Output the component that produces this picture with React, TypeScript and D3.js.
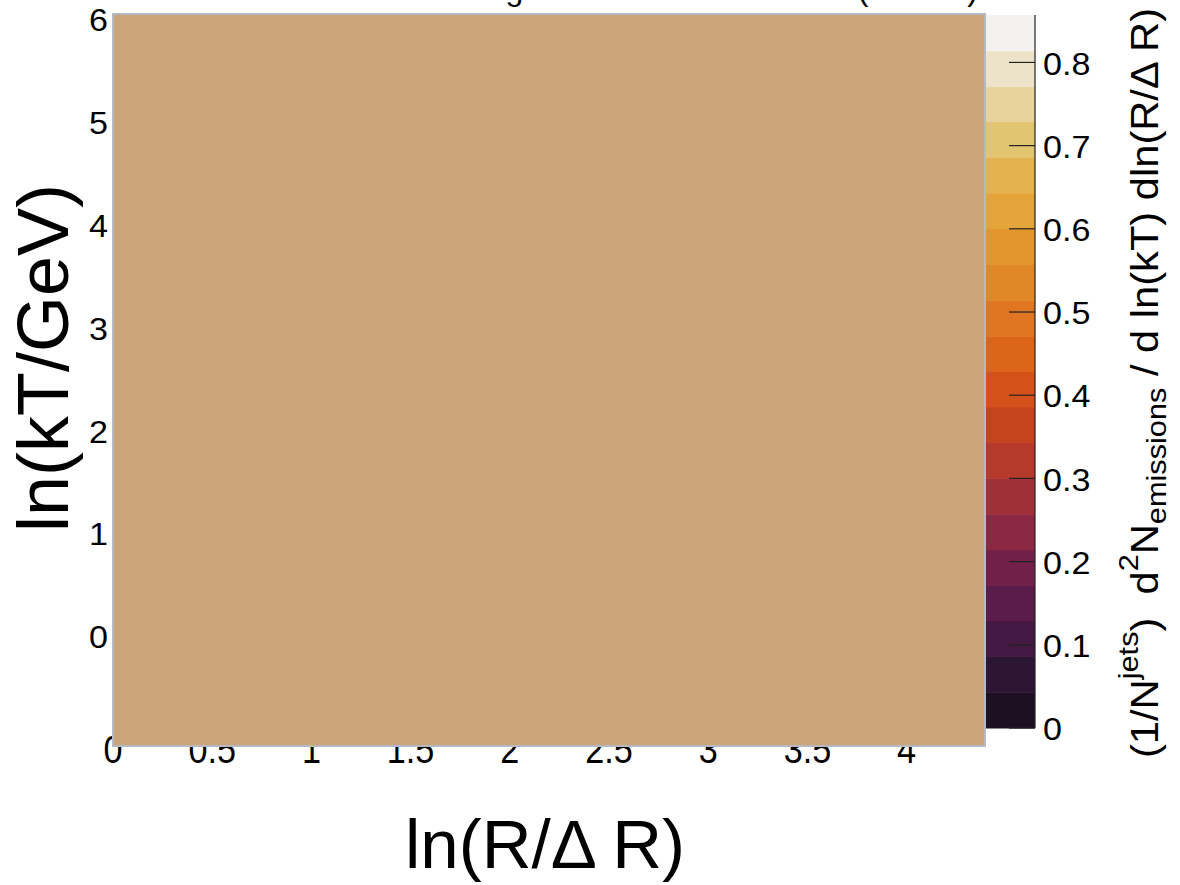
import React from "react";
import * as d3 from "d3";

// ---- data ----
const xDomain = [0, 4.395];
const yDomain = [-1.06, 6.06];
const xTickValues = [0, 0.5, 1, 1.5, 2, 2.5, 3, 3.5, 4];
const xTickLabels = ["0", "0.5", "1", "1.5", "2", "2.5", "3", "3.5", "4"];
const yTickValues = [0, 1, 2, 3, 4, 5, 6];
const yTickLabels = ["0", "1", "2", "3", "4", "5", "6"];
const zDomain = [0, 0.857];
const zTickValues = [0, 0.1, 0.2, 0.3, 0.4, 0.5, 0.6, 0.7, 0.8];
const zTickLabels = ["0", "0.1", "0.2", "0.3", "0.4", "0.5", "0.6", "0.7", "0.8"];
const zLevels = [0, 0.043, 0.086, 0.129, 0.171, 0.214, 0.257, 0.3, 0.343, 0.386, 0.429,
  0.471, 0.514, 0.557, 0.6, 0.643, 0.686, 0.729, 0.771, 0.814, 0.857];
const zColors = [
  "#1d1022", "#2c1535", "#431842", "#5a1c4a", "#702049",
  "#8a2843", "#a12f38", "#b53a2b", "#c6431f", "#d4521a",
  "#db6519", "#e07522", "#e08726", "#e3952e", "#e3a43a",
  "#e3b350", "#e2c571", "#e6d49c", "#ede3c8", "#f4f2f0",
];
// histogram content: one uniform cell covering the whole plane
const histXEdges = [0, 4.395];
const histYEdges = [-1.06, 6.06];
const histFill = "#cba57a";

const FONT = "'Liberation Sans', Arial, Helvetica, sans-serif";

export default function App() {
  const x = d3.scaleLinear().domain(xDomain).range([113, 985]);
  const y = d3.scaleLinear().domain(yDomain).range([746, 14]);
  const z = d3.scaleLinear().domain(zDomain).range([728, 15]);
  const tickF = 31;
  const sx = 1.1;
  const xTickF = 38;
  const cbX0 = 986;
  const cbX1 = 1035;

  return (
    <svg
      width={1180}
      height={885}
      style={{ position: "absolute", left: 0, top: 0, display: "block", background: "#fff" }}
      fontFamily={FONT}
    >
      <rect x={0} y={0} width={1180} height={885} fill="#fff" />
      {/* title (almost entirely above the page, only descenders show) */}
      <text x={978} y={0} textAnchor="end" fontSize={32} fill="#000">
        Leading Emissions Lund Plane (13 TeV)
      </text>

      {/* x tick labels (partly hidden beneath the plot) */}
      {xTickValues.map((v, i) => (
        <text
          key={"xt" + i}
          transform={`translate(${x(v)},763) scale(0.9,1)`}
          textAnchor="middle"
          fontSize={xTickF}
          fill="#000"
        >
          {xTickLabels[i]}
        </text>
      ))}

      {/* y tick labels */}
      {yTickValues.map((v, i) => (
        <text
          key={"yt" + i}
          transform={`translate(108,${y(v) + 0.358 * tickF}) scale(${sx},1)`}
          textAnchor="end"
          fontSize={tickF}
          fill="#000"
        >
          {yTickLabels[i]}
        </text>
      ))}

      {/* histogram cell(s) */}
      <rect
        x={x(histXEdges[0])}
        y={y(histYEdges[1])}
        width={x(histXEdges[1]) - x(histXEdges[0])}
        height={y(histYEdges[0]) - y(histYEdges[1])}
        fill={histFill}
        stroke="#b6b8c2"
        strokeWidth={2}
      />

      {/* colour bar */}
      {zColors.map((c, i) => (
        <rect
          key={"cb" + i}
          x={cbX0}
          y={z(zLevels[i + 1])}
          width={cbX1 - cbX0}
          height={z(zLevels[i]) - z(zLevels[i + 1]) + 0.5}
          fill={c}
        />
      ))}
      <line x1={cbX1} x2={cbX1} y1={z(zDomain[1])} y2={z(zDomain[0])} stroke="#222" strokeWidth={1.2} />
      {zTickValues.map((v, i) => (
        <g key={"zt" + i}>
          <line x1={1009} x2={cbX1} y1={z(v)} y2={z(v)} stroke="#222" strokeWidth={1.2} />
          <text
            transform={`translate(1043,${z(v) + 0.358 * tickF + 1}) scale(${sx},1)`}
            fontSize={tickF}
            fill="#000"
          >
            {zTickLabels[i]}
          </text>
        </g>
      ))}

      {/* axis titles */}
      <text x={545} y={868} textAnchor="middle" fontSize={69} fill="#000">
        ln(R/Δ R)
      </text>
      <text transform="translate(68,358) rotate(-90)" textAnchor="middle" fontSize={72} fill="#000">
        ln(kT/GeV)
      </text>
      <text
        transform="translate(1158,383) rotate(-90)"
        textAnchor="middle"
        fontSize={38}
        fill="#000"
        textLength={750}
        lengthAdjust="spacingAndGlyphs"
      >
        (1/N
        <tspan fontSize={28} dy={-20}>jets</tspan>
        <tspan dy={20}>)&#160;&#160;d</tspan>
        <tspan fontSize={28} dy={-20}>2</tspan>
        <tspan dy={20}>N</tspan>
        <tspan fontSize={28} dy={8}>emissions</tspan>
        <tspan dy={-8}>&#160;/ d ln(kT) dln(R/Δ R)</tspan>
      </text>
    </svg>
  );
}
